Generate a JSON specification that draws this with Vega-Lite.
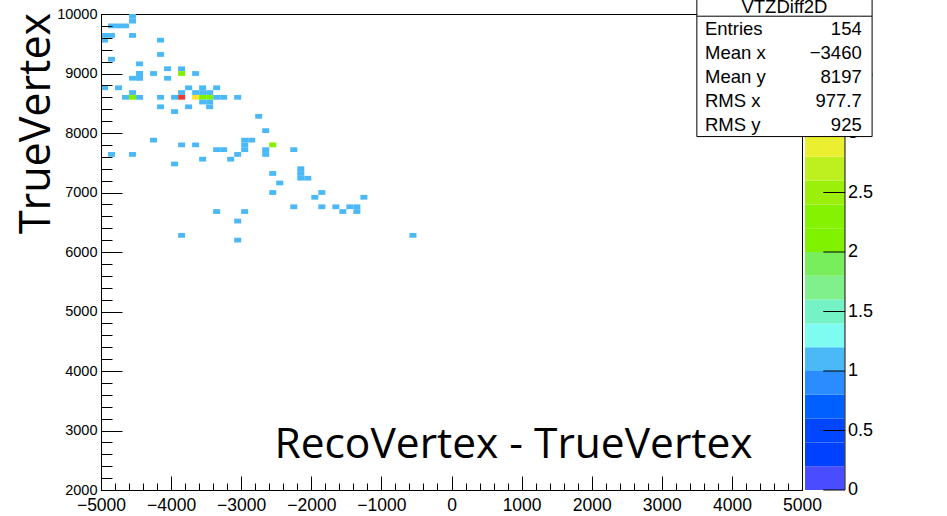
{
  "$schema": "https://vega.github.io/schema/vega-lite/v6.json",
  "width": 701,
  "height": 476,
  "autosize": {"type": "none"},
  "padding": {"left": 101, "top": 14, "right": 145, "bottom": 26},
  "background": "white",
  "view": {"stroke": "black", "strokeWidth": 1},
  "config": {
    "axis": {"grid": false, "domainColor": "black", "tickColor": "black", "labelColor": "black", "labelFont": "Liberation Sans", "titleColor": "black"}
  },
  "datasets": {
    "cells": [
      {"x": -4600, "x2": -4500, "y": 9920, "y2": 10000, "n": 1},
      {"x": -4600, "x2": -4500, "y": 9840, "y2": 9920, "n": 1},
      {"x": -4900, "x2": -4800, "y": 9760, "y2": 9840, "n": 1},
      {"x": -4800, "x2": -4700, "y": 9760, "y2": 9840, "n": 1},
      {"x": -4700, "x2": -4600, "y": 9760, "y2": 9840, "n": 1},
      {"x": -5000, "x2": -4900, "y": 9600, "y2": 9680, "n": 1},
      {"x": -4900, "x2": -4800, "y": 9600, "y2": 9680, "n": 1},
      {"x": -4600, "x2": -4500, "y": 9600, "y2": 9680, "n": 1},
      {"x": -5000, "x2": -4900, "y": 9520, "y2": 9600, "n": 1},
      {"x": -4200, "x2": -4100, "y": 9520, "y2": 9600, "n": 1},
      {"x": -4200, "x2": -4100, "y": 9280, "y2": 9360, "n": 1},
      {"x": -4900, "x2": -4800, "y": 9200, "y2": 9280, "n": 1},
      {"x": -4500, "x2": -4400, "y": 9120, "y2": 9200, "n": 1},
      {"x": -4100, "x2": -4000, "y": 9040, "y2": 9120, "n": 1},
      {"x": -3900, "x2": -3800, "y": 9040, "y2": 9120, "n": 1},
      {"x": -4500, "x2": -4400, "y": 8960, "y2": 9040, "n": 1},
      {"x": -4300, "x2": -4200, "y": 8960, "y2": 9040, "n": 1},
      {"x": -3900, "x2": -3800, "y": 8960, "y2": 9040, "n": 2},
      {"x": -3700, "x2": -3600, "y": 8960, "y2": 9040, "n": 1},
      {"x": -4600, "x2": -4500, "y": 8880, "y2": 8960, "n": 1},
      {"x": -4500, "x2": -4400, "y": 8880, "y2": 8960, "n": 1},
      {"x": -4100, "x2": -4000, "y": 8880, "y2": 8960, "n": 1},
      {"x": -5000, "x2": -4900, "y": 8720, "y2": 8800, "n": 1},
      {"x": -4800, "x2": -4700, "y": 8720, "y2": 8800, "n": 1},
      {"x": -3800, "x2": -3700, "y": 8720, "y2": 8800, "n": 1},
      {"x": -3600, "x2": -3500, "y": 8720, "y2": 8800, "n": 1},
      {"x": -3400, "x2": -3300, "y": 8720, "y2": 8800, "n": 1},
      {"x": -4600, "x2": -4500, "y": 8640, "y2": 8720, "n": 1},
      {"x": -3900, "x2": -3800, "y": 8640, "y2": 8720, "n": 1},
      {"x": -3700, "x2": -3600, "y": 8640, "y2": 8720, "n": 1},
      {"x": -3600, "x2": -3500, "y": 8640, "y2": 8720, "n": 1},
      {"x": -3500, "x2": -3400, "y": 8640, "y2": 8720, "n": 1},
      {"x": -4700, "x2": -4600, "y": 8560, "y2": 8640, "n": 1},
      {"x": -4600, "x2": -4500, "y": 8560, "y2": 8640, "n": 2},
      {"x": -4500, "x2": -4400, "y": 8560, "y2": 8640, "n": 1},
      {"x": -4200, "x2": -4100, "y": 8560, "y2": 8640, "n": 1},
      {"x": -4000, "x2": -3900, "y": 8560, "y2": 8640, "n": 1},
      {"x": -3900, "x2": -3800, "y": 8560, "y2": 8640, "n": 4},
      {"x": -3700, "x2": -3600, "y": 8560, "y2": 8640, "n": 3},
      {"x": -3600, "x2": -3500, "y": 8560, "y2": 8640, "n": 2},
      {"x": -3500, "x2": -3400, "y": 8560, "y2": 8640, "n": 2},
      {"x": -3400, "x2": -3300, "y": 8560, "y2": 8640, "n": 1},
      {"x": -3300, "x2": -3200, "y": 8560, "y2": 8640, "n": 1},
      {"x": -3100, "x2": -3000, "y": 8560, "y2": 8640, "n": 1},
      {"x": -3600, "x2": -3500, "y": 8480, "y2": 8560, "n": 1},
      {"x": -3500, "x2": -3400, "y": 8480, "y2": 8560, "n": 1},
      {"x": -4200, "x2": -4100, "y": 8400, "y2": 8480, "n": 1},
      {"x": -3800, "x2": -3700, "y": 8400, "y2": 8480, "n": 1},
      {"x": -3500, "x2": -3400, "y": 8400, "y2": 8480, "n": 1},
      {"x": -4000, "x2": -3900, "y": 8320, "y2": 8400, "n": 1},
      {"x": -2800, "x2": -2700, "y": 8240, "y2": 8320, "n": 1},
      {"x": -2700, "x2": -2600, "y": 8000, "y2": 8080, "n": 1},
      {"x": -4300, "x2": -4200, "y": 7840, "y2": 7920, "n": 1},
      {"x": -3000, "x2": -2900, "y": 7840, "y2": 7920, "n": 1},
      {"x": -2900, "x2": -2800, "y": 7840, "y2": 7920, "n": 1},
      {"x": -3900, "x2": -3800, "y": 7760, "y2": 7840, "n": 1},
      {"x": -3700, "x2": -3600, "y": 7760, "y2": 7840, "n": 1},
      {"x": -3000, "x2": -2900, "y": 7760, "y2": 7840, "n": 1},
      {"x": -2600, "x2": -2500, "y": 7760, "y2": 7840, "n": 2},
      {"x": -3400, "x2": -3300, "y": 7680, "y2": 7760, "n": 1},
      {"x": -3300, "x2": -3200, "y": 7680, "y2": 7760, "n": 1},
      {"x": -3000, "x2": -2900, "y": 7680, "y2": 7760, "n": 1},
      {"x": -2700, "x2": -2600, "y": 7680, "y2": 7760, "n": 1},
      {"x": -2300, "x2": -2200, "y": 7680, "y2": 7760, "n": 1},
      {"x": -4900, "x2": -4800, "y": 7600, "y2": 7680, "n": 1},
      {"x": -4600, "x2": -4500, "y": 7600, "y2": 7680, "n": 1},
      {"x": -3100, "x2": -3000, "y": 7600, "y2": 7680, "n": 1},
      {"x": -2700, "x2": -2600, "y": 7600, "y2": 7680, "n": 1},
      {"x": -3600, "x2": -3500, "y": 7520, "y2": 7600, "n": 1},
      {"x": -3200, "x2": -3100, "y": 7520, "y2": 7600, "n": 1},
      {"x": -4000, "x2": -3900, "y": 7440, "y2": 7520, "n": 1},
      {"x": -2200, "x2": -2100, "y": 7360, "y2": 7440, "n": 1},
      {"x": -2600, "x2": -2500, "y": 7280, "y2": 7360, "n": 1},
      {"x": -2200, "x2": -2100, "y": 7280, "y2": 7360, "n": 1},
      {"x": -2200, "x2": -2100, "y": 7200, "y2": 7280, "n": 1},
      {"x": -2100, "x2": -2000, "y": 7200, "y2": 7280, "n": 1},
      {"x": -2500, "x2": -2400, "y": 7120, "y2": 7200, "n": 1},
      {"x": -2600, "x2": -2500, "y": 6960, "y2": 7040, "n": 1},
      {"x": -1900, "x2": -1800, "y": 6960, "y2": 7040, "n": 1},
      {"x": -2000, "x2": -1900, "y": 6880, "y2": 6960, "n": 1},
      {"x": -1300, "x2": -1200, "y": 6880, "y2": 6960, "n": 1},
      {"x": -2300, "x2": -2200, "y": 6720, "y2": 6800, "n": 1},
      {"x": -1900, "x2": -1800, "y": 6720, "y2": 6800, "n": 1},
      {"x": -1700, "x2": -1600, "y": 6720, "y2": 6800, "n": 1},
      {"x": -1500, "x2": -1400, "y": 6720, "y2": 6800, "n": 1},
      {"x": -1400, "x2": -1300, "y": 6720, "y2": 6800, "n": 1},
      {"x": -3400, "x2": -3300, "y": 6640, "y2": 6720, "n": 1},
      {"x": -3000, "x2": -2900, "y": 6640, "y2": 6720, "n": 1},
      {"x": -1600, "x2": -1500, "y": 6640, "y2": 6720, "n": 1},
      {"x": -1400, "x2": -1300, "y": 6640, "y2": 6720, "n": 1},
      {"x": -3100, "x2": -3000, "y": 6480, "y2": 6560, "n": 1},
      {"x": -3900, "x2": -3800, "y": 6240, "y2": 6320, "n": 1},
      {"x": -600, "x2": -500, "y": 6240, "y2": 6320, "n": 1},
      {"x": -3100, "x2": -3000, "y": 6160, "y2": 6240, "n": 1}
    ],
    "bands": [
      {"z0": 0, "z1": 0.2, "zc": 0.1}, {"z0": 0.2, "z1": 0.4, "zc": 0.3},
      {"z0": 0.4, "z1": 0.6, "zc": 0.5}, {"z0": 0.6, "z1": 0.8, "zc": 0.7},
      {"z0": 0.8, "z1": 1.0, "zc": 0.9}, {"z0": 1.0, "z1": 1.2, "zc": 1.1},
      {"z0": 1.2, "z1": 1.4, "zc": 1.3}, {"z0": 1.4, "z1": 1.6, "zc": 1.5},
      {"z0": 1.6, "z1": 1.8, "zc": 1.7}, {"z0": 1.8, "z1": 2.0, "zc": 1.9},
      {"z0": 2.0, "z1": 2.2, "zc": 2.1}, {"z0": 2.2, "z1": 2.4, "zc": 2.3},
      {"z0": 2.4, "z1": 2.6, "zc": 2.5}, {"z0": 2.6, "z1": 2.8, "zc": 2.7},
      {"z0": 2.8, "z1": 3.0, "zc": 2.9}, {"z0": 3.0, "z1": 3.2, "zc": 3.1},
      {"z0": 3.2, "z1": 3.4, "zc": 3.3}, {"z0": 3.4, "z1": 3.6, "zc": 3.5},
      {"z0": 3.6, "z1": 3.8, "zc": 3.7}, {"z0": 3.8, "z1": 4.0, "zc": 3.9}
    ],
    "cbticks": [{"t": 0}, {"t": 0.5}, {"t": 1}, {"t": 1.5}, {"t": 2}, {"t": 2.5}, {"t": 3}, {"t": 3.5}],
    "stats": [
      {"title": "VTZDiff2D", "labels": "Entries\nMean x\nMean y\nRMS x\nRMS y", "vals": "154\n−3460\n8197\n977.7\n925"}
    ]
  },
  "layer": [
    {
      "layer": [
        {
          "data": {"name": "bands"},
          "mark": {"type": "rect"},
          "encoding": {
            "x": {"datum": 5043, "type": "quantitative", "axis": null},
            "x2": {"datum": 5607},
            "y": {"field": "z0", "type": "quantitative", "scale": {"domain": [0, 4], "nice": false}, "axis": null},
            "y2": {"field": "z1"},
            "color": {"field": "zc", "type": "quantitative", "legend": null,
              "scale": {"type": "threshold",
                "domain": [0.2, 0.4, 0.6, 0.8, 1, 1.2, 1.4, 1.6, 1.8, 2, 2.2, 2.4, 2.6, 2.8, 3, 3.2, 3.4, 3.6, 3.8],
                "range": ["#4a4cff", "#0040ff", "#0046ff", "#005fff", "#2a8cff", "#4bb9f8", "#7ffcf2", "#75f2c6", "#7ff08c", "#79ee5c", "#80f200", "#84f200", "#9cef0a", "#bef01f", "#eaf02f", "#ffe033", "#ffb828", "#ff8c28", "#ff6030", "#ee3a32"]}}
          }
        },
        {
          "data": {"name": "cbticks"},
          "mark": {"type": "rule", "color": "black", "strokeWidth": 1},
          "encoding": {
            "x": {"datum": 5304, "type": "quantitative", "axis": null},
            "x2": {"datum": 5613},
            "y": {"field": "t", "type": "quantitative", "axis": null}
          }
        },
        {
          "data": {"name": "stats"},
          "mark": {"type": "rule", "color": "black", "strokeWidth": 1},
          "encoding": {
            "x": {"datum": 5613, "type": "quantitative", "axis": null},
            "y": {"datum": 0, "type": "quantitative", "axis": null},
            "y2": {"datum": 4}
          }
        },
        {
          "data": {"name": "cbticks"},
          "mark": {"type": "text", "font": "Liberation Sans", "fontSize": 18, "align": "left", "baseline": "middle", "color": "black"},
          "encoding": {
            "x": {"datum": 5656, "type": "quantitative", "axis": null},
            "y": {"field": "t", "type": "quantitative", "axis": null},
            "text": {"field": "t", "type": "quantitative", "format": "~g"}
          }
        }
      ]
    },
    {
      "layer": [
        {
          "data": {"name": "cells"},
          "mark": {"type": "rect"},
          "encoding": {
            "x": {"field": "x", "type": "quantitative", "scale": {"domain": [-5000, 5000], "nice": false, "zero": false},
              "axis": {"orient": "bottom", "values": [-5000, -4000, -3000, -2000, -1000, 0, 1000, 2000, 3000, 4000, 5000], "format": "d", "tickSize": -14, "labelPadding": 20, "labelFontSize": 17.5, "labelFlush": false, "labelOverlap": false, "zindex": 1,
                "title": "RecoVertex - TrueVertex", "titleFont": "Open Sans", "titleFontSize": 42.5, "titleFontWeight": "normal", "titleX": 412, "titleY": -33, "titleAlign": "center", "titleBaseline": "alphabetic"}},
            "x2": {"field": "x2"},
            "y": {"field": "y", "type": "quantitative", "scale": {"domain": [2000, 10000], "nice": false, "zero": false},
              "axis": {"orient": "left", "values": [2000, 3000, 4000, 5000, 6000, 7000, 8000, 9000, 10000], "format": "d", "tickSize": -21, "labelPadding": 25, "labelFontSize": 14.5, "labelOverlap": false, "zindex": 1,
                "title": "TrueVertex", "titleFont": "Open Sans", "titleFontSize": 43, "titleFontWeight": "normal", "titleAngle": 270, "titleX": -52, "titleY": 109, "titleAlign": "center", "titleBaseline": "alphabetic"}},
            "y2": {"field": "y2"},
            "color": {"field": "n", "type": "quantitative", "legend": null,
              "scale": {"type": "threshold",
                "domain": [0.2, 0.4, 0.6, 0.8, 1, 1.2, 1.4, 1.6, 1.8, 2, 2.2, 2.4, 2.6, 2.8, 3, 3.2, 3.4, 3.6, 3.8],
                "range": ["#4a4cff", "#0040ff", "#0046ff", "#005fff", "#2a8cff", "#4bb9f8", "#7ffcf2", "#75f2c6", "#7ff08c", "#79ee5c", "#80f200", "#84f200", "#9cef0a", "#bef01f", "#eaf02f", "#ffe033", "#ffb828", "#ff8c28", "#ff6030", "#ee3a32"]}}
          }
        },
        {
          "data": {"name": "stats"},
          "mark": {"type": "point", "opacity": 0},
          "encoding": {
            "x": {"datum": 0, "type": "quantitative",
              "axis": {"orient": "bottom", "values": [-5000,-4800,-4600,-4400,-4200,-4000,-3800,-3600,-3400,-3200,-3000,-2800,-2600,-2400,-2200,-2000,-1800,-1600,-1400,-1200,-1000,-800,-600,-400,-200,0,200,400,600,800,1000,1200,1400,1600,1800,2000,2200,2400,2600,2800,3000,3200,3400,3600,3800,4000,4200,4400,4600,4800,5000], "tickSize": -7, "labels": false, "domain": false, "title": null, "zindex": 1}},
            "y": {"datum": 6000, "type": "quantitative",
              "axis": {"orient": "left", "values": [2000,2200,2400,2600,2800,3000,3200,3400,3600,3800,4000,4200,4400,4600,4800,5000,5200,5400,5600,5800,6000,6200,6400,6600,6800,7000,7200,7400,7600,7800,8000,8200,8400,8600,8800,9000,9200,9400,9600,9800,10000], "tickSize": -11, "labels": false, "domain": false, "title": null, "zindex": 1}}
          }
        },
        {
          "data": {"name": "stats"},
          "mark": {"type": "rect", "fill": "white", "stroke": "black", "strokeWidth": 1},
          "encoding": {
            "x": {"datum": 3500, "type": "quantitative", "axis": null},
            "x2": {"datum": 6000},
            "y": {"datum": 7940, "type": "quantitative", "axis": null},
            "y2": {"datum": 10330}
          }
        },
        {
          "data": {"name": "stats"},
          "mark": {"type": "rule", "color": "black", "strokeWidth": 1},
          "encoding": {
            "x": {"datum": 3500, "type": "quantitative", "axis": null},
            "x2": {"datum": 6000},
            "y": {"datum": 9963, "type": "quantitative", "axis": null}
          }
        },
        {
          "data": {"name": "stats"},
          "mark": {"type": "text", "font": "Liberation Sans", "fontSize": 18.5, "align": "center", "baseline": "alphabetic", "color": "black"},
          "encoding": {
            "x": {"datum": 4750, "type": "quantitative", "axis": null},
            "y": {"datum": 10015, "type": "quantitative", "axis": null},
            "text": {"field": "title"}
          }
        },
        {
          "data": {"name": "stats"},
          "mark": {"type": "text", "font": "Liberation Sans", "fontSize": 18.5, "align": "left", "baseline": "alphabetic", "lineBreak": "\n", "lineHeight": 23.9, "color": "black"},
          "encoding": {
            "x": {"datum": 3616, "type": "quantitative", "axis": null},
            "y": {"datum": 9647, "type": "quantitative", "axis": null},
            "text": {"field": "labels"}
          }
        },
        {
          "data": {"name": "stats"},
          "mark": {"type": "text", "font": "Liberation Sans", "fontSize": 18.5, "align": "right", "baseline": "alphabetic", "lineBreak": "\n", "lineHeight": 23.9, "color": "black"},
          "encoding": {
            "x": {"datum": 5852, "type": "quantitative", "axis": null},
            "y": {"datum": 9647, "type": "quantitative", "axis": null},
            "text": {"field": "vals"}
          }
        }
      ],
      "resolve": {"axis": {"x": "independent", "y": "independent"}}
    }
  ],
  "resolve": {"scale": {"y": "independent"}, "axis": {"y": "independent"}}
}
